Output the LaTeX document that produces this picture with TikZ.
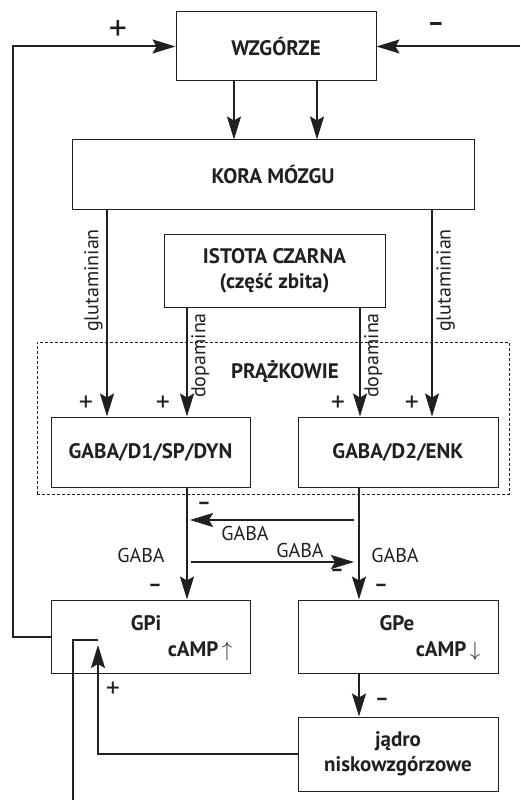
\documentclass[tikz,border=0pt]{standalone}
\usepackage{fontspec}
\setmainfont{PT Sans}
\usetikzlibrary{
  arrows.meta,
  positioning
}
\definecolor{ink}{HTML}{231F20}

\begin{document}
\begin{tikzpicture}[
  x=1pt, y=-1pt,
  box/.style={
    draw=ink, line width=1pt, fill=white,
    minimum width=200pt, minimum height=70pt, inner sep=0pt,
    font=\fontsize{21}{25}\selectfont\bfseries, text=ink, align=center
  },
  boxtext/.style={font=\fontsize{21}{25}\selectfont\bfseries, text=ink},
  arr/.style={line width=2pt, draw=ink, -{Stealth[length=23pt, width=14pt, inset=4pt]}},
  wire/.style={line width=2pt, draw=ink},
  lbl/.style={font=\fontsize{20}{22}\selectfont, text=ink},
  plus/.style={font=\fontsize{28}{28}\selectfont, text=ink},
  minus/.style={font=\fontsize{21}{21}\selectfont\bfseries, text=ink}
]
\useasboundingbox (0,0) rectangle (520,810);

% STRIATUM (dashed frame)
\node[draw=ink, line width=0.8pt, dash pattern=on 3pt off 2pt,
  minimum width=472pt, minimum height=152pt] (striatum) at (273,418) {};
\node[boxtext] (striatumlbl) at (285,372) {PRĄŻKOWIE};

% BOXES
\node[box, minimum height=69pt] (wzg) at (276,46.5) {WZGÓRZE};
\node[box, minimum width=402pt] (kora) at (273,175) {KORA MÓZGU};
\node[box, minimum width=221pt, minimum height=73pt] (istota) at (274.5,270.5)
  {ISTOTA CZARNA\\(część zbita)};
\node[box, minimum width=199pt] (d1) at (150.5,452) {GABA/D1/SP/DYN};
\node[box] (d2) at (398,452) {GABA/D2/ENK};
\node[box, minimum width=199pt, minimum height=73pt] (gpi) at (150.5,636.5) {};
\node[box, minimum height=73pt] (gpe) at (398,636.5) {};
\node[box, minimum height=74pt] (stn) at (398,754) {jądro\\niskowzgórzowe};

\node[boxtext] (gpilbl) at (146,623) {GPi};
\node[boxtext] (gpicamp) at (200,651) {cAMP\,$\uparrow$};
\node[boxtext] (gpelbl) at (397,623) {GPe};
\node[boxtext] (gpecamp) at (448,651) {cAMP\,$\downarrow$};

% THALAMUS -> CORTEX
\draw[arr] ([xshift=-42]wzg.south) -- ([xshift=-39]kora.north);
\draw[arr] ([xshift=41]wzg.south) -- ([xshift=44]kora.north);

% inputs to thalamus
\coordinate (inR) at (520,46.5);
\draw[arr] (gpi.west) -- ++(-38,0) |- (wzg.west);
\draw[arr] (inR) -- (wzg.east);
\node[font=\fontsize{36}{36}\selectfont, text=ink] (plusT) at (118,31) {+};
\node[font=\fontsize{26}{26}\selectfont\bfseries, text=ink] (minusT) at (436,27) {–};

% CORTEX / SN -> STRIATUM
\draw[arr] ([xshift=-166]kora.south) --
  node[lbl, rotate=90, anchor=south, pos=0.34] {glutaminian} ([xshift=-43.5]d1.north);
\draw[arr] ([xshift=159]kora.south) --
  node[lbl, rotate=90, anchor=north, pos=0.34] {glutaminian} ([xshift=34]d2.north);
\draw[arr] ([xshift=-87.5]istota.south) --
  node[lbl, rotate=90, anchor=north, pos=0.44] {dopamina} ([xshift=36.5]d1.north);
\draw[arr] ([xshift=85.5]istota.south) --
  node[lbl, rotate=90, anchor=north, pos=0.44] {dopamina} ([xshift=-38]d2.north);

\node[plus] at (86,404) {+};
\node[plus] at (163,404) {+};
\node[plus] at (338,404) {+};
\node[plus] at (412,404) {+};

% STRIATUM -> GP
\draw[arr] ([xshift=36.5]d1.south) -- ([xshift=36.5]gpi.north);
\draw[arr] ([xshift=-39]d2.south) -- ([xshift=-39]gpe.north);
\node[lbl] at (141,555) {GABA};
\node[lbl] at (395,555) {GABA};
\node[minus] at (155,588) {–};
\node[minus] at (381,588) {–};

\coordinate (crossLs) at (354,520);
\coordinate (crossLe) at (190,520);
\coordinate (crossRs) at (191,562);
\coordinate (crossRe) at (354,562);
\draw[arr] (crossLs) -- (crossLe);
\draw[arr] (crossRs) -- (crossRe);
\node[minus] at (204,506) {–};
\node[lbl] at (245,533) {GABA};
\node[lbl] at (300,550) {GABA};
\node[minus] at (337,573) {–};

% GPe -> STN -> GPi
\draw[arr] ([xshift=-39]gpe.south) -- ([xshift=-39]stn.north);
\node[minus] at (382,702) {–};

\coordinate (gpiin) at (98,645);
\draw[arr] (stn.west) -| (gpiin);
\node[plus] at (113,690) {+};

% GPi output
\coordinate (gpiout) at (98,640);
\coordinate (outend) at (73,800);
\draw[wire] (gpiout) -| (outend);

\end{tikzpicture}
\end{document}
